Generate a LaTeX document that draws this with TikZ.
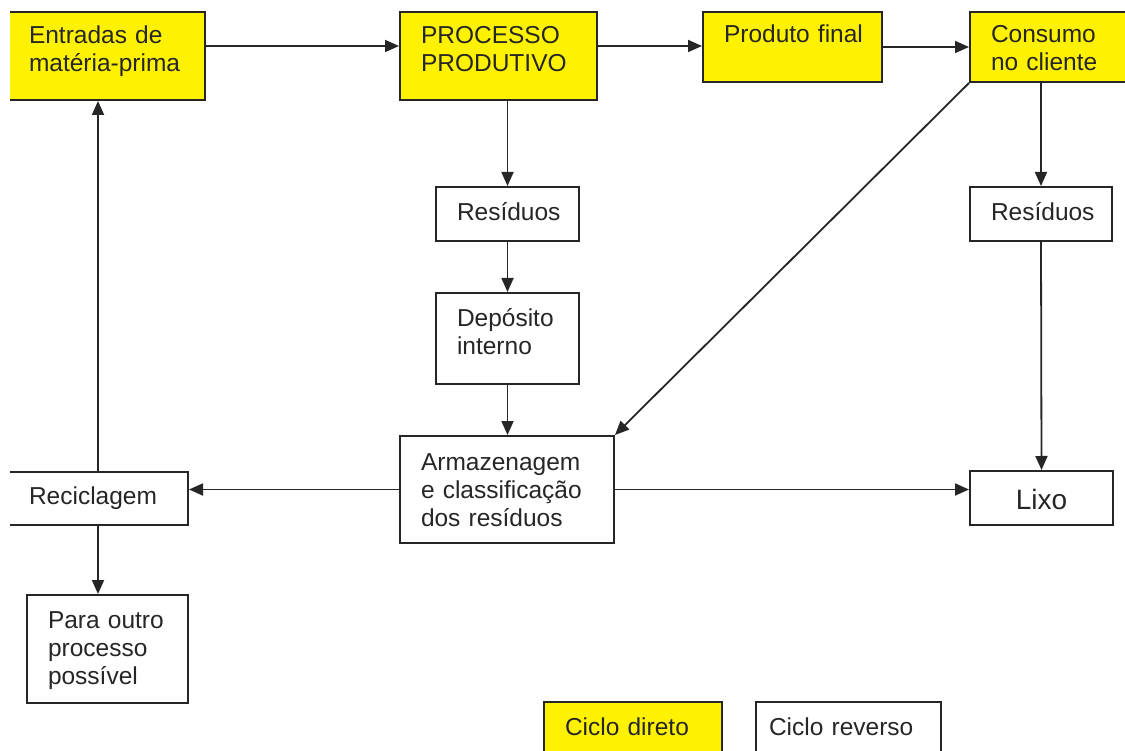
\documentclass[tikz,border=0pt]{standalone}
\usepackage{fontspec}
\setmainfont{Liberation Sans}
\usetikzlibrary{arrows.meta}

\begin{document}
\begin{tikzpicture}[x=1pt, y=-1pt, >={Triangle[length=14pt,width=12pt]},
  bx/.style={draw=black!85, line width=2pt, anchor=north west, align=left, inner xsep=21pt, inner ysep=0pt, font=\fontsize{24.5}{28}\selectfont, text=black!85},
  direto/.style={bx, fill=yellow},
  reverso/.style={bx, fill=white},
  seta/.style={->, line width=1.8pt, draw=black!85}]
\useasboundingbox (0,0) rectangle (1125,751);
\clip (10,0) rectangle (1125,751);
\node[direto, text width=155pt, text height=32pt, text depth=56pt] (ent) at (7,11) {Entradas de\\matéria-prima};
\node[direto, text width=155pt, text height=32pt, text depth=56pt] (proc) at (399,11) {PROCESSO\\PRODUTIVO};
\node[direto, text width=137pt, text height=31pt, text depth=39pt] (prod) at (702,11) {\mbox{Produto final}};
\node[direto, text width=129pt, text height=31pt, text depth=39pt] (cons) at (969,11) {Consumo\\no cliente};
\node[reverso, text width=101pt, text height=34pt, text depth=20pt] (res1) at (435,186) {Resíduos};
\node[reverso, text width=101pt, text height=34pt, text depth=57pt] (dep) at (435,292) {Depósito\\interno};
\node[reverso, text width=172pt, text height=34pt, text depth=73pt] (arm) at (399,435) {Armazenagem\\e classificação\\dos resíduos};
\node[reverso, text width=138pt, text height=32pt, text depth=21pt] (rec) at (7,471) {Reciclagem};
\node[reverso, text width=119pt, text height=33pt, text depth=75pt] (oth) at (26,594) {Para outro\\processo\\possível};
\node[reverso, text width=100pt, text height=34pt, text depth=20pt] (res2) at (969,186) {Resíduos};
\node[reverso, align=center, text width=101pt, text height=38pt, text depth=16pt, font=\fontsize{28}{32}\selectfont] (lixo) at (969,470) {Lixo};
\node[direto, text width=136pt, text height=33pt, text depth=40pt] (cdir) at (543,701) {Ciclo direto};
\node[reverso, inner xsep=13pt, text width=159pt, text height=33pt, text depth=40pt] (crev) at (755,701) {Ciclo reverso};
\draw[seta] ([yshift=10pt]ent.east) -- ([yshift=10pt]proc.west);
\draw[seta] ([yshift=10pt]proc.east) -- ([yshift=10pt]proc.east -| prod.west);
\draw[seta] (prod.east) -- (cons.west);
\draw[seta] (res1.north |- proc.south) -- (res1.north);
\draw[seta] (res1.south) -- (dep.north);
\draw[seta] (dep.south) -- (dep.south |- arm.north);
\draw[seta] (res2.north |- cons.south) -- (res2.north);
\draw[seta] (res2.south) -- (lixo.north);
\draw[seta] (cons.south west) -- (arm.north east);
\draw[seta] (arm.west) -- (arm.west -| rec.east);
\draw[seta] (arm.east) -- (arm.east -| lixo.west);
\draw[seta] (rec.north) -- (rec.north |- ent.south);
\draw[seta] (rec.south) -- (rec.south |- oth.north);
\end{tikzpicture}
\end{document}
